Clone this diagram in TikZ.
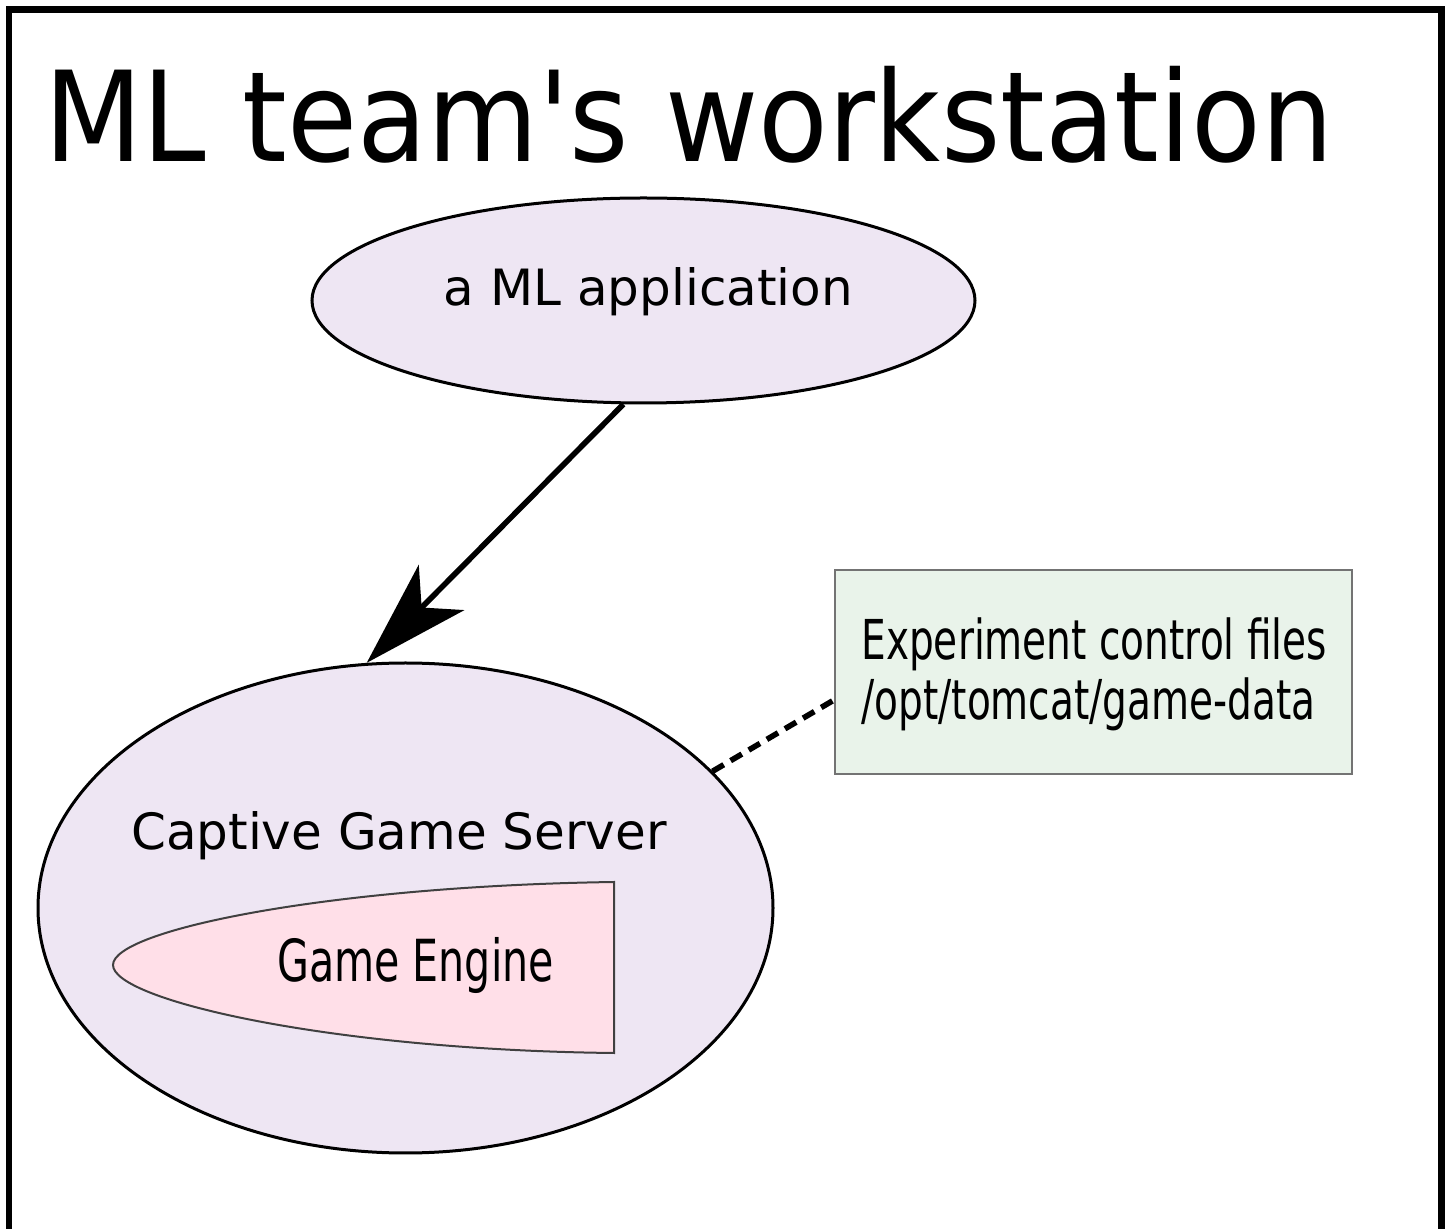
\documentclass[tikz,border=0pt]{standalone}
\usepackage{fontspec}
\setmainfont{DejaVu Sans}
\newfontfamily\condfont[FakeStretch=0.71]{DejaVu Sans}
\usetikzlibrary{shapes.geometric,arrows.meta}
\definecolor{lav}{HTML}{EEE6F3}
\definecolor{pinkfill}{HTML}{FFDFE8}
\definecolor{greenfill}{HTML}{E9F3EA}
\tikzset{
  ell/.style={ellipse, draw=black, line width=1.5pt, fill=lav, inner sep=0pt},
  txt/.style={inner sep=0pt, font=\fontsize{25pt}{30pt}\selectfont},
  filebox/.style={rectangle, draw=black!55, line width=1pt, fill=greenfill, inner sep=0pt,
    minimum width=258.5pt, minimum height=102pt},
  flow/.style={line width=2.8pt, -{Stealth[length=53pt, width=32pt, inset=14pt]}},
  link/.style={line width=2.8pt, dash pattern=on 6.5pt off 4pt}
}
\begin{document}
\begin{tikzpicture}[x=0.5pt, y=-0.5pt]
\useasboundingbox (0,0) rectangle (1448,1229);
\fill[white] (0,0) rectangle (1448,1229);
% frame
\draw[line width=3.2pt] (9,1235) -- (9,9.7) -- (1441.5,9.7) -- (1441.5,1235);
% title
\node[anchor=base west, inner sep=0pt, font=\fontsize{57pt}{68pt}\selectfont] (title) at (44,162) {\scalebox{1}[1.1]{ML team\textquotesingle s workstation}};
% ellipses
\node[ell, minimum width=331.5pt, minimum height=102.5pt] (app) at (643.5,300.5) {};
\node[txt, anchor=base] (apptxt) at (648.5,306) {a ML application};
\node[ell, minimum width=367.5pt, minimum height=245pt] (srv) at (405.5,908) {};
\node[txt, anchor=base] (srvtxt) at (399,850) {Captive Game Server};
% game engine
\draw[draw=black!75, line width=1pt, fill=pinkfill] (614,882) -- (614,1053)
  .. controls (330,1050) and (113,1000) .. (113,965)
  .. controls (113,930) and (330,886) .. (614,882) -- cycle;
\node[inner sep=0pt, anchor=base, font=\condfont\fontsize{29pt}{34pt}\selectfont] (eng) at (415.5,982) {Game Engine};
% file box
\node[filebox] (box) at (1093.5,672) {};
\node[inner sep=0pt, anchor=base west, font=\condfont\fontsize{27.5pt}{31pt}\selectfont] (boxl1) at (861,660) {Experiment control files};
\node[inner sep=0pt, anchor=base west, font=\condfont\fontsize{27.5pt}{31pt}\selectfont] (boxl2) at (861,720) {/opt/tomcat/game-data};
% connectors
\draw[flow] (app.259.8) -- (srv.99);
\draw[link] (srv.24.5) -- ([yshift=-14pt]box.west);
\end{tikzpicture}
\end{document}
